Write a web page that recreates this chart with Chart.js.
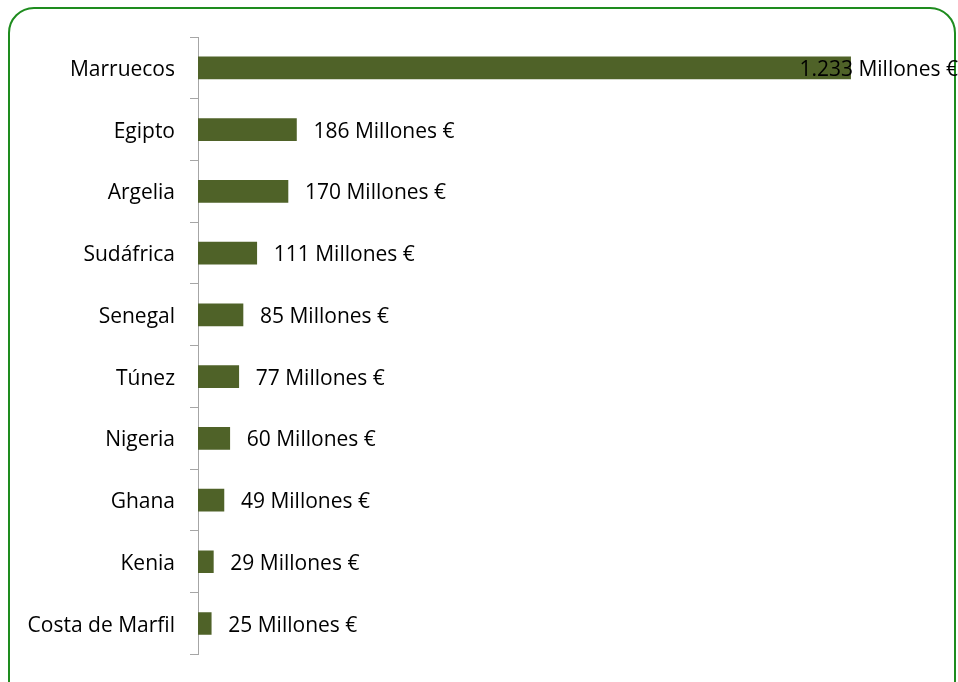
<!DOCTYPE html>
<html>
<head>
<meta charset="utf-8">
<script src="https://cdn.jsdelivr.net/npm/chart.js@4"></script>
<style>
  html, body { margin: 0; padding: 0; background: #fff; overflow: hidden; }
  #wrap { position: relative; width: 958px; height: 682px; }
  #frame { position: absolute; left: 8px; top: 7px; width: 944px; height: 700px;
           border: 2px solid #1e8c1e; border-radius: 26px; }
  canvas { position: absolute; left: 0; top: 0; }
</style>
</head>
<body>
<div id="wrap">
  <div id="frame"></div>
  <canvas id="chart" width="958" height="682"></canvas>
</div>
<script>
const countries = ['Marruecos', 'Egipto', 'Argelia', 'Sudáfrica', 'Senegal', 'Túnez', 'Nigeria', 'Ghana', 'Kenia', 'Costa de Marfil'];
const values = [1233, 186, 170, 111, 85, 77, 60, 49, 29, 25];
const unit = 'Millones €';

const FONT = '"Open Sans", sans-serif';
const FSIZE = 21;

function fmt(v) {
  return String(v).replace(/\B(?=(\d{3})+(?!\d))/g, '.');
}

const barLabels = {
  id: 'barLabels',
  afterDatasetsDraw(chart) {
    const ctx = chart.ctx;
    const meta = chart.getDatasetMeta(0);
    ctx.save();
    ctx.font = FSIZE + 'px ' + FONT;
    ctx.fillStyle = '#000';
    ctx.textBaseline = 'middle';
    meta.data.forEach((bar, i) => {
      const txt = fmt(values[i]) + ' ' + unit;
      const w = ctx.measureText(txt).width;
      let x = bar.x + 17;
      if (x + w > chart.width) x = chart.width - w;
      ctx.fillText(txt, x, bar.y + 2);
    });
    ctx.restore();
  }
};

const ctx = document.getElementById('chart').getContext('2d');
const myChart = new Chart(ctx, {
  type: 'bar',
  data: {
    labels: countries,
    datasets: [{
      data: values,
      backgroundColor: '#4f6228',
      borderWidth: 0,
      barThickness: 22
    }]
  },
  options: {
    indexAxis: 'y',
    responsive: false,
    animation: false,
    layout: { padding: { left: 20, top: 37, bottom: 25, right: 19 } },
    plugins: { legend: { display: false }, tooltip: { enabled: false } },
    scales: {
      x: { display: false, min: 0, max: 1400 },
      y: {
        afterFit(scale) { scale.width = 178; },
        border: { display: true, color: '#a6a6a6', width: 1 },
        grid: { display: true, drawOnChartArea: false, drawTicks: true, tickLength: 8, color: '#a6a6a6', offset: true },
        ticks: { color: '#000', padding: 15, labelOffset: 2, font: { family: FONT, size: FSIZE } }
      }
    }
  },
  plugins: [barLabels]
});
</script>
</body>
</html>
